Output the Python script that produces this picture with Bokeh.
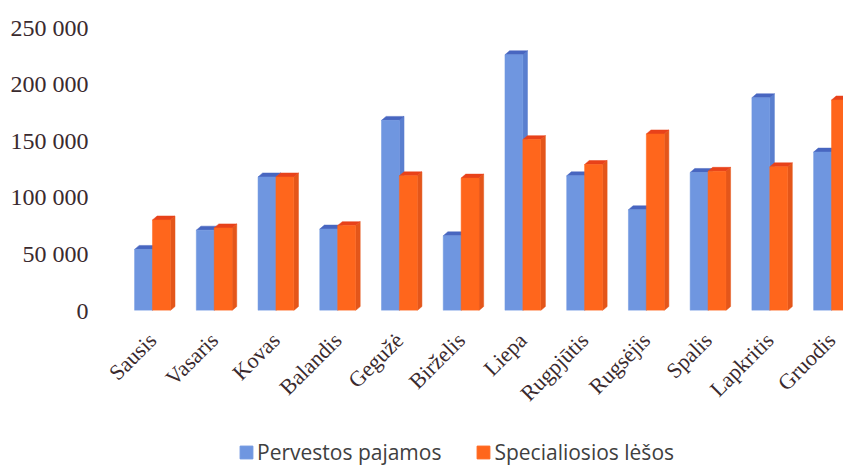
import numpy as np
from bokeh.plotting import figure
from bokeh.layouts import column
from bokeh.models import FixedTicker, Legend, LegendItem, Range1d
from bokeh.embed import file_html
from bokeh.resources import INLINE

months = ["Sausis", "Vasaris", "Kovas", "Balandis", "Gegužė", "Birželis",
          "Liepa", "Rugpjūtis", "Rugsėjis", "Spalis", "Lapkritis", "Gruodis"]
pervestos = [54000, 71000, 118000, 72000, 168000, 66000,
             226000, 119000, 89000, 122000, 188000, 140000]
specialiosios = [80000, 73000, 118000, 75000, 119000, 117000,
                 151000, 129000, 156000, 123000, 127000, 186000]
series_names = ["Pervestos pajamos", "Specialiosios lėšos"]
y_ticks = [0, 50000, 100000, 150000, 200000, 250000]
y_tick_labels = ["0", "50 000", "100 000", "150 000", "200 000", "250 000"]

blue = ["#6f96e0", "#5a7fcf", "#4866c0"]
orange = ["#ff661c", "#e4561a", "#e8421a"]

W = 843
p = figure(width=W, height=430, output_backend="svg", toolbar_location=None,
           x_range=Range1d(-0.842, 11.194), y_range=Range1d(0, 263300),
           min_border_left=100, min_border_right=0, min_border_top=12,
           min_border_bottom=120)
p.outline_line_color = None
p.xgrid.visible = False
p.ygrid.visible = False
p.background_fill_color = "white"
p.border_fill_color = "white"

xs = np.arange(len(months))
w = 0.29
dx = 0.075
dy = 3500


def bar3d(fig, xc, vals, cols):
    front, side, top = cols
    vals = np.asarray(vals, dtype=float)
    x0 = xc - w / 2
    x1 = xc + w / 2
    side_xs = [[a, a + dx, a + dx, a] for a in x1]
    side_ys = [[0, dy, v + dy, v] for v in vals]
    top_xs = [[a, a + dx, b + dx, b] for a, b in zip(x0, x1)]
    top_ys = [[v, v + dy, v + dy, v] for v in vals]
    fig.patches(side_xs, side_ys, fill_color=side, line_color=side, line_width=0.5)
    fig.patches(top_xs, top_ys, fill_color=top, line_color=top, line_width=0.5)
    fig.vbar(x=xc, top=vals, bottom=0, width=w, fill_color=front,
             line_color=front, line_width=0.5)


bar3d(p, xs - w / 2, pervestos, blue)
bar3d(p, xs + w / 2, specialiosios, orange)

p.yaxis.ticker = FixedTicker(ticks=y_ticks)
p.yaxis.major_label_overrides = {t: l for t, l in zip(y_ticks, y_tick_labels)}
p.yaxis.axis_line_color = None
p.yaxis.major_tick_line_color = None
p.yaxis.minor_tick_line_color = None
p.yaxis.major_tick_out = 0
p.yaxis.major_label_standoff = 12
p.yaxis.major_label_text_font = "Liberation Serif"
p.yaxis.major_label_text_font_size = "24px"
p.yaxis.major_label_text_color = "#3a2a2e"

p.xaxis.ticker = FixedTicker(ticks=list(xs))
p.xaxis.major_label_overrides = {int(i): m for i, m in zip(xs, months)}
p.xaxis.axis_line_color = None
p.xaxis.major_tick_line_color = None
p.xaxis.minor_tick_line_color = None
p.xaxis.major_tick_out = 0
p.xaxis.major_label_orientation = np.pi / 4
p.xaxis.major_label_standoff = 26
p.xaxis.major_label_text_font = "Liberation Serif"
p.xaxis.major_label_text_font_size = "22px"
p.xaxis.major_label_text_color = "#3a2a2e"

# legend strip (its frame is aligned with the chart frame, left edge at x=100)
lf = figure(width=W, height=36, output_backend="svg", toolbar_location=None,
            x_range=Range1d(0, 1), y_range=Range1d(0, 1),
            x_axis_location=None, y_axis_location=None,
            min_border_left=0, min_border_right=0, min_border_top=0,
            min_border_bottom=0)
lf.grid.visible = False
lf.outline_line_color = None
l1 = lf.vbar(x=[-5], top=[0], width=0.1, fill_color=blue[0], line_color=blue[0])
l2 = lf.vbar(x=[-5], top=[0], width=0.1, fill_color=orange[0], line_color=orange[0])
legend = Legend(items=[LegendItem(label=series_names[0], renderers=[l1]),
                       LegendItem(label=series_names[1], renderers=[l2])],
                orientation="horizontal", location=(138, 0),
                glyph_width=16, glyph_height=16, label_standoff=3, spacing=34,
                label_text_font="Open Sans", label_text_font_size="21px",
                label_text_color="#404040", border_line_color=None,
                background_fill_alpha=0, margin=0, padding=0)
lf.add_layout(legend, "center")

layout = column(p, lf, spacing=0)
open("out.html", "w").write(file_html(layout, INLINE))
